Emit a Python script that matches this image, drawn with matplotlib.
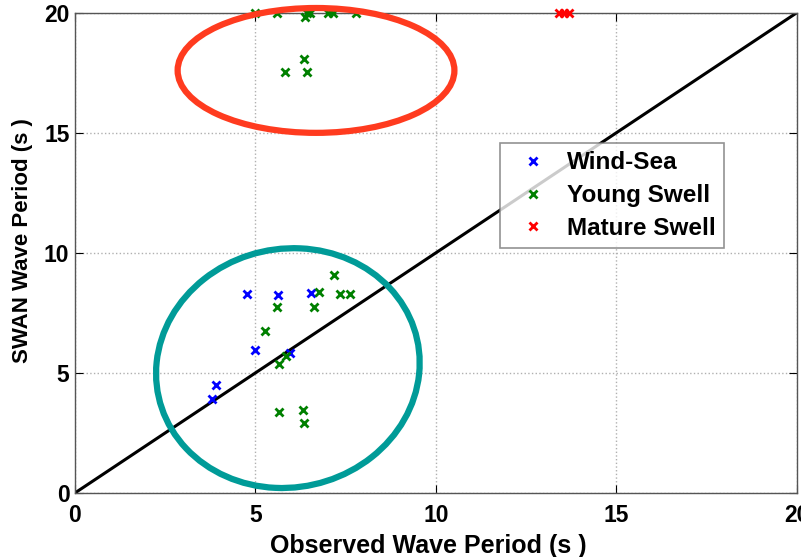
import matplotlib
matplotlib.use("Agg")
import matplotlib.pyplot as plt
from matplotlib.patches import Ellipse

plt.rcParams["font.family"] = ["Liberation Sans", "DejaVu Sans"]

# observed (x) vs SWAN (y) wave period, seconds
wind_obs = [4.76, 5.63, 6.54, 5.0, 5.96, 3.9, 3.8]
wind_swan = [8.29, 8.24, 8.32, 5.96, 5.82, 4.5, 3.92]

young_obs = [5.0, 5.6, 6.43, 6.51, 7.02, 7.16, 7.78, 6.37, 6.35, 5.82, 6.42,
             7.18, 6.76, 7.34, 7.62, 5.61, 6.63, 5.26, 5.86, 5.66, 5.65, 6.31, 6.34]
young_swan = [20.0, 20.0, 20.0, 20.0, 20.0, 20.0, 20.0, 19.82, 18.08, 17.53, 17.53,
              9.08, 8.35, 8.29, 8.29, 7.76, 7.76, 6.76, 5.71, 5.36, 3.39, 3.46, 2.93]

mature_obs = [13.4, 13.55, 13.7]
mature_swan = [20.0, 20.0, 20.0]

ticks = [0, 5, 10, 15, 20]

fig = plt.figure(figsize=(8.01, 5.57), dpi=100)
ax = fig.add_axes([0.0936, 0.115, 0.901, 0.862])

ax.plot([0, 20], [0, 20], color="black", lw=2.2, zorder=2)

mk = dict(marker="x", linestyle="None", markersize=6, markeredgewidth=2, zorder=4, clip_on=False)
ax.plot(wind_obs, wind_swan, color="#0000ff", label="Wind-Sea", **mk)
ax.plot(young_obs, young_swan, color="#008000", label="Young Swell", **mk)
ax.plot(mature_obs, mature_swan, color="#ff0000", label="Mature Swell", **mk)

# highlight rings
ax.add_patch(Ellipse((6.68, 17.6), 7.67, 5.2, fill=False, edgecolor="#ff3b1f",
                     lw=4.5, clip_on=False, zorder=5))
ax.add_patch(Ellipse((5.9, 5.2), 7.29, 10.0, angle=-4, fill=False, edgecolor="#009b98",
                     lw=4.5, clip_on=False, zorder=5))

ax.set_xlim(0, 20)
ax.set_ylim(0, 20)
ax.set_xticks(ticks)
ax.set_yticks(ticks)
ax.tick_params(direction="in", top=True, right=True, length=6, labelsize=16.5)
ax.tick_params(axis="x", pad=8)
ax.tick_params(axis="y", pad=4)
for lab in ax.get_xticklabels() + ax.get_yticklabels():
    lab.set_fontweight("bold")
ax.grid(True, linestyle=":", color="#b0b0b0", lw=1)
for s in ax.spines.values():
    s.set_color("#555555")
    s.set_linewidth(1)

ax.set_xlabel("Observed Wave Period (s )", fontsize=18, fontweight="bold")
ax.set_ylabel("SWAN Wave Period (s )", fontsize=16, fontweight="bold")
ax.xaxis.set_label_coords(0.49, -0.085)
ax.yaxis.set_label_coords(-0.058, 0.525)

leg = ax.legend(loc="upper left", bbox_to_anchor=(0.589, 0.729), borderaxespad=0,
                prop={"size": 17.5, "weight": "bold"},
                fancybox=False, edgecolor="#777777", handlelength=2.0, handletextpad=0.39,
                labelspacing=0.4, borderpad=0.35)
leg.get_frame().set_linewidth(1.2)

fig.savefig("out.png", dpi=100)
